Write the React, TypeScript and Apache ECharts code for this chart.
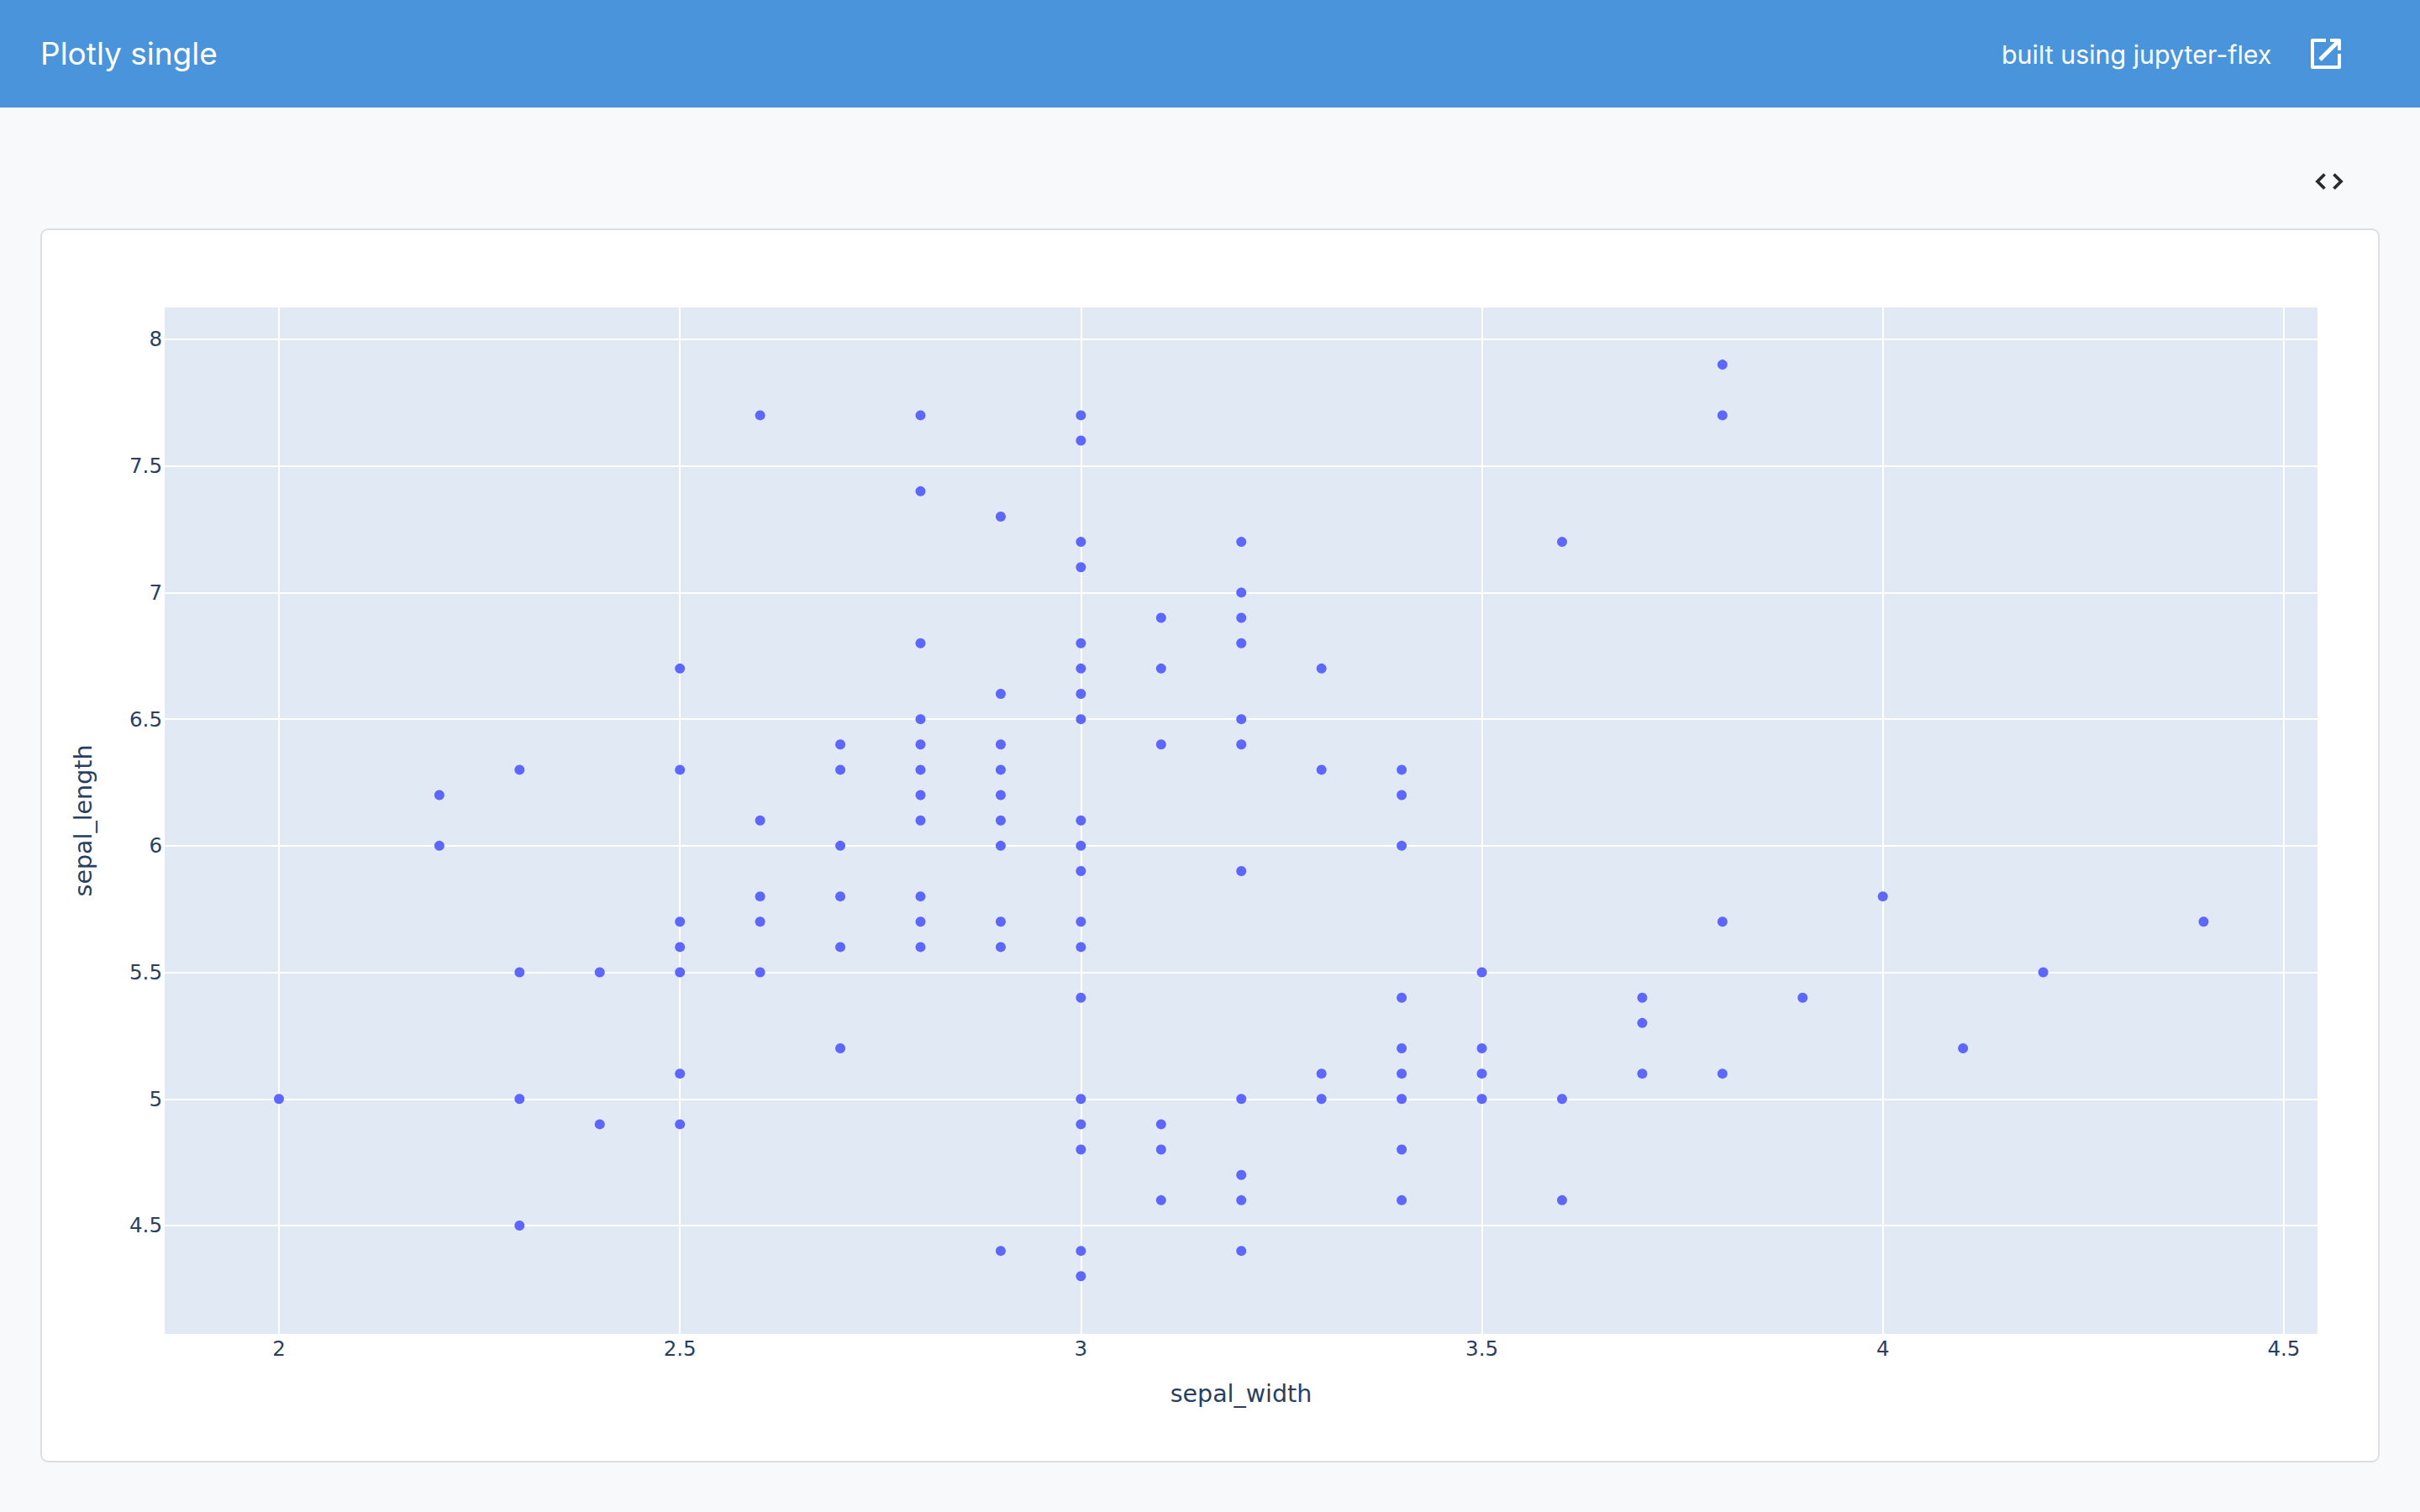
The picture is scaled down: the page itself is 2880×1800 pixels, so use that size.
import React, { useEffect, useRef } from "react";
import * as echarts from "echarts";

const titleText = "Plotly single";
const footerLinkText = "built using jupyter-flex";
const xName = "sepal_width";
const yName = "sepal_length";
const xTicks = [2, 2.5, 3, 3.5, 4, 4.5];
const yTicks = [4.5, 5, 5.5, 6, 6.5, 7, 7.5, 8];

const sepalWidth = [
  3.8,
  2.6, 2.8, 3.0, 3.8,
  3.0,
  2.8,
  2.9,
  3.0, 3.2, 3.6,
  3.0,
  3.2,
  3.1, 3.2,
  2.8, 3.0, 3.2,
  2.5, 3.0, 3.1, 3.3,
  2.9, 3.0,
  2.8, 3.0, 3.2,
  2.7, 2.8, 2.9, 3.1, 3.2,
  2.3, 2.5, 2.7, 2.8, 2.9, 3.3, 3.4,
  2.2, 2.8, 2.9, 3.4,
  2.6, 2.8, 2.9, 3.0,
  2.2, 2.7, 2.9, 3.0, 3.4,
  3.0, 3.2,
  2.6, 2.7, 2.8, 4.0,
  2.5, 2.6, 2.8, 2.9, 3.0, 3.8, 4.4,
  2.5, 2.7, 2.8, 2.9, 3.0,
  2.3, 2.4, 2.5, 2.6, 3.5, 4.2,
  3.0, 3.4, 3.7, 3.9,
  3.7,
  2.7, 3.4, 3.5, 4.1,
  2.5, 3.3, 3.4, 3.5, 3.7, 3.8,
  2.0, 2.3, 3.0, 3.2, 3.3, 3.4, 3.5, 3.6,
  2.4, 2.5, 3.0, 3.1,
  3.0, 3.1, 3.4,
  3.2,
  3.1, 3.2, 3.4, 3.6,
  2.3,
  2.9, 3.0, 3.2,
  3.0,
];
const sepalLength = [
  7.9,
  7.7, 7.7, 7.7, 7.7,
  7.6,
  7.4,
  7.3,
  7.2, 7.2, 7.2,
  7.1,
  7.0,
  6.9, 6.9,
  6.8, 6.8, 6.8,
  6.7, 6.7, 6.7, 6.7,
  6.6, 6.6,
  6.5, 6.5, 6.5,
  6.4, 6.4, 6.4, 6.4, 6.4,
  6.3, 6.3, 6.3, 6.3, 6.3, 6.3, 6.3,
  6.2, 6.2, 6.2, 6.2,
  6.1, 6.1, 6.1, 6.1,
  6.0, 6.0, 6.0, 6.0, 6.0,
  5.9, 5.9,
  5.8, 5.8, 5.8, 5.8,
  5.7, 5.7, 5.7, 5.7, 5.7, 5.7, 5.7,
  5.6, 5.6, 5.6, 5.6, 5.6,
  5.5, 5.5, 5.5, 5.5, 5.5, 5.5,
  5.4, 5.4, 5.4, 5.4,
  5.3,
  5.2, 5.2, 5.2, 5.2,
  5.1, 5.1, 5.1, 5.1, 5.1, 5.1,
  5.0, 5.0, 5.0, 5.0, 5.0, 5.0, 5.0, 5.0,
  4.9, 4.9, 4.9, 4.9,
  4.8, 4.8, 4.8,
  4.7,
  4.6, 4.6, 4.6, 4.6,
  4.5,
  4.4, 4.4, 4.4,
  4.3,
];

const PLOT_FONT = "'DejaVu Sans', Verdana, sans-serif";
const UI_FONT = "Inter, 'Noto Sans', sans-serif";
const INK = "#2a3f5f";

export default function App() {
  const ref = useRef<HTMLDivElement>(null);
  useEffect(() => {
    if (!ref.current) return;
    const chart = echarts.init(ref.current, undefined, { renderer: "svg" });
    const iconLine = (points: number[][], lineWidth = 4) => ({
      type: "polyline",
      shape: { points },
      style: { stroke: "#ffffff", lineWidth, fill: "none", lineCap: "butt", lineJoin: "round" },
    });
    const codeLine = (points: number[][]) => ({
      type: "polyline",
      shape: { points },
      style: { stroke: "#2b2b2b", lineWidth: 3.8, fill: "none", lineJoin: "miter" },
    });
    chart.setOption({
      animation: false,
      backgroundColor: "#f8f9fb",
      graphic: [
        { type: "rect", silent: true, z: -1, shape: { x: 0, y: 0, width: 2880, height: 128 }, style: { fill: "#4a94dc" } },
        {
          type: "rect", silent: true, z: -1,
          shape: { x: 49, y: 273, width: 2782, height: 1467, r: 8 },
          style: { fill: "#ffffff", stroke: "#dcdedf", lineWidth: 2 },
        },
        {
          type: "text", x: 48, y: 63,
          style: { text: titleText, fill: "#ffffff", font: `400 37px ${UI_FONT}`, textVerticalAlign: "middle" },
        },
        {
          type: "text", x: 2382, y: 65,
          style: { text: footerLinkText, fill: "#ffffff", font: `400 30.4px ${UI_FONT}`, textVerticalAlign: "middle" },
        },
        iconLine([[2768, 48], [2752, 48], [2752, 80], [2784, 80], [2784, 64]]),
        iconLine([[2761, 71], [2784, 48]], 5),
        iconLine([[2773, 48], [2784, 48], [2784, 60]]),
        codeLine([[2766.5, 207.5], [2758, 216], [2766.5, 224.5]]),
        codeLine([[2777.5, 207.5], [2786, 216], [2777.5, 224.5]]),
      ],
      grid: {
        left: 196, top: 366, width: 2562, height: 1222,
        show: true, backgroundColor: "#e1e9f4", borderWidth: 0, containLabel: false,
      },
      xAxis: {
        type: "value", min: 1.8575, max: 4.542,
        name: xName, nameLocation: "middle", nameGap: 57,
        nameTextStyle: { fontFamily: PLOT_FONT, fontSize: 28.5, color: INK },
        axisLine: { show: false },
        axisTick: { show: false, customValues: xTicks },
        axisLabel: {
          customValues: xTicks, margin: 5, color: INK, fontFamily: PLOT_FONT, fontSize: 24.5,
          formatter: (v: number) => String(v),
        },
        splitLine: { show: true, lineStyle: { color: "#ffffff", width: 2 } },
      },
      yAxis: {
        type: "value", min: 4.072, max: 8.126,
        name: yName, nameLocation: "middle", nameGap: 82, nameRotate: 90,
        nameTextStyle: { fontFamily: PLOT_FONT, fontSize: 28.5, color: INK },
        axisLine: { show: false },
        axisTick: { show: false, customValues: yTicks },
        axisLabel: {
          customValues: yTicks, margin: 3, color: INK, fontFamily: PLOT_FONT, fontSize: 24.5,
          formatter: (v: number) => String(v),
        },
        splitLine: { show: true, lineStyle: { color: "#ffffff", width: 2 } },
      },
      series: [
        {
          type: "scatter",
          data: sepalWidth.map((w, i) => [w, sepalLength[i]]),
          symbol: "circle",
          symbolSize: 12,
          itemStyle: { color: "#5d68fb", opacity: 1 },
          silent: true,
        },
      ],
    });
    return () => chart.dispose();
  }, []);
  return (
    <div
      ref={ref}
      style={{ position: "absolute", left: 0, top: 0, width: 2880, height: 1800 }}
    />
  );
}
